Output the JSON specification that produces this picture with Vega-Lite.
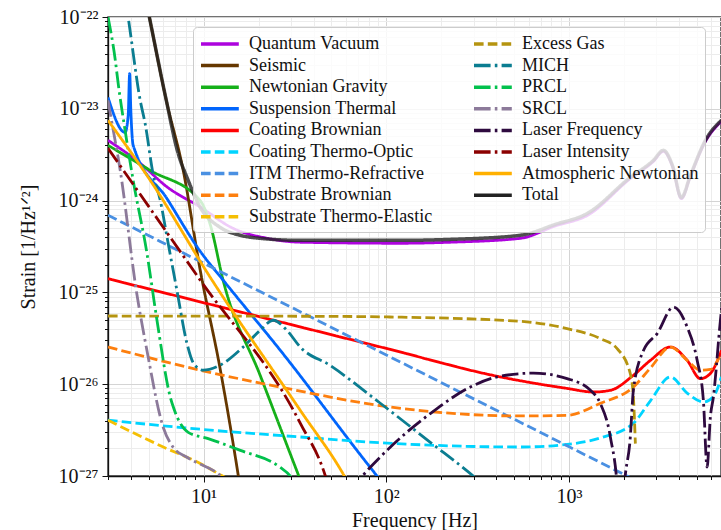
{
  "$schema": "https://vega.github.io/schema/vega-lite/v6.json",
  "width": 613,
  "height": 459,
  "autosize": "none",
  "padding": {"left": 108, "top": 17, "right": 0, "bottom": 54},
  "background": "white",
  "config": {
    "font": "Liberation Serif",
    "view": {"stroke": "#444", "strokeWidth": 1.5},
    "axis": {
      "labelFont": "Liberation Serif", "labelFontSize": 20, "labelColor": "#111",
      "titleFont": "Liberation Serif", "titleFontSize": 20, "titleFontWeight": "normal", "titleColor": "#111",
      "domainColor": "#111", "domainWidth": 1.3, "tickColor": "#111", "tickWidth": 1,
      "labelOverlap": false, "labelFlush": false, "grid": true
    }
  },
  "data": {"values": [
    {"noise":"Quantum Vacuum","freq":3.0,"strain":4.54e-24},
    {"noise":"Quantum Vacuum","freq":4.5,"strain":2.55e-24},
    {"noise":"Quantum Vacuum","freq":6.31,"strain":1.41e-24},
    {"noise":"Quantum Vacuum","freq":9.59,"strain":8.51e-25},
    {"noise":"Quantum Vacuum","freq":14.5,"strain":4.99e-25},
    {"noise":"Quantum Vacuum","freq":22.4,"strain":3.88e-25},
    {"noise":"Quantum Vacuum","freq":33.8,"strain":3.52e-25},
    {"noise":"Quantum Vacuum","freq":119,"strain":3.43e-25},
    {"noise":"Quantum Vacuum","freq":224,"strain":3.52e-25},
    {"noise":"Quantum Vacuum","freq":541,"strain":3.88e-25},
    {"noise":"Quantum Vacuum","freq":840,"strain":5.3e-25},
    {"noise":"Quantum Vacuum","freq":1259,"strain":6.9e-25},
    {"noise":"Quantum Vacuum","freq":2163,"strain":1.74e-24},
    {"noise":"Quantum Vacuum","freq":2891,"strain":2.67e-24},
    {"noise":"Quantum Vacuum","freq":3281,"strain":3.44e-24},
    {"noise":"Quantum Vacuum","freq":3675,"strain":2.36e-24},
    {"noise":"Quantum Vacuum","freq":4115,"strain":1.05e-24},
    {"noise":"Quantum Vacuum","freq":4610,"strain":1.84e-24},
    {"noise":"Quantum Vacuum","freq":5570,"strain":4.4e-24},
    {"noise":"Quantum Vacuum","freq":6810,"strain":7.3e-24},

    {"noise":"Seismic","freq":4.5,"strain":3.1e-22},
    {"noise":"Seismic","freq":5.05,"strain":1.0e-22},
    {"noise":"Seismic","freq":6.25,"strain":1.24e-23},
    {"noise":"Seismic","freq":7.74,"strain":2.13e-24},
    {"noise":"Seismic","freq":9.59,"strain":1.74e-25},
    {"noise":"Seismic","freq":12.3,"strain":1.5e-26},
    {"noise":"Seismic","freq":15.5,"strain":1.0e-27},
    {"noise":"Seismic","freq":17,"strain":3.0e-28},

    {"noise":"Newtonian Gravity","freq":3.0,"strain":4.0e-24},
    {"noise":"Newtonian Gravity","freq":5.11,"strain":2.13e-24},
    {"noise":"Newtonian Gravity","freq":9.59,"strain":1.0e-24},
    {"noise":"Newtonian Gravity","freq":10.9,"strain":5.4e-25},
    {"noise":"Newtonian Gravity","freq":12.8,"strain":1.35e-25},
    {"noise":"Newtonian Gravity","freq":20.5,"strain":1.22e-26},
    {"noise":"Newtonian Gravity","freq":33.2,"strain":1.0e-27},
    {"noise":"Newtonian Gravity","freq":36,"strain":6.6e-28},

    {"noise":"Suspension Thermal","freq":3.0,"strain":1.33e-23},
    {"noise":"Suspension Thermal","freq":3.72,"strain":5.53e-24},
    {"noise":"Suspension Thermal","freq":3.87,"strain":8.5e-24},
    {"noise":"Suspension Thermal","freq":3.94,"strain":2.42e-23},
    {"noise":"Suspension Thermal","freq":4.0,"strain":9.6e-24},
    {"noise":"Suspension Thermal","freq":4.12,"strain":4.0e-24},
    {"noise":"Suspension Thermal","freq":6.31,"strain":1.05e-24},
    {"noise":"Suspension Thermal","freq":9.59,"strain":2.8e-25},
    {"noise":"Suspension Thermal","freq":12.8,"strain":1.36e-25},
    {"noise":"Suspension Thermal","freq":26.3,"strain":2.34e-26},
    {"noise":"Suspension Thermal","freq":89,"strain":1.0e-27},
    {"noise":"Suspension Thermal","freq":100,"strain":7.5e-28},

    {"noise":"Coating Brownian","freq":3.0,"strain":1.41e-25},
    {"noise":"Coating Brownian","freq":101,"strain":2.44e-26},
    {"noise":"Coating Brownian","freq":421,"strain":1.2e-26},
    {"noise":"Coating Brownian","freq":975,"strain":9.0e-27},
    {"noise":"Coating Brownian","freq":1358,"strain":8.22e-27},
    {"noise":"Coating Brownian","freq":1682,"strain":8.58e-27},
    {"noise":"Coating Brownian","freq":2248,"strain":1.25e-26},
    {"noise":"Coating Brownian","freq":2786,"strain":1.82e-26},
    {"noise":"Coating Brownian","freq":3589,"strain":2.54e-26},
    {"noise":"Coating Brownian","freq":4426,"strain":1.82e-26},
    {"noise":"Coating Brownian","freq":5228,"strain":1.15e-26},
    {"noise":"Coating Brownian","freq":5930,"strain":1.31e-26},
    {"noise":"Coating Brownian","freq":6810,"strain":2.33e-26},

    {"noise":"Coating Thermo-Optic","freq":3.0,"strain":4.05e-27},
    {"noise":"Coating Thermo-Optic","freq":9.59,"strain":3.23e-27},
    {"noise":"Coating Thermo-Optic","freq":33.8,"strain":2.66e-27},
    {"noise":"Coating Thermo-Optic","freq":101,"strain":2.28e-27},
    {"noise":"Coating Thermo-Optic","freq":541,"strain":2.07e-27},
    {"noise":"Coating Thermo-Optic","freq":975,"strain":2.21e-27},
    {"noise":"Coating Thermo-Optic","freq":1483,"strain":2.6e-27},
    {"noise":"Coating Thermo-Optic","freq":2248,"strain":3.75e-27},
    {"noise":"Coating Thermo-Optic","freq":2786,"strain":6.6e-27},
    {"noise":"Coating Thermo-Optic","freq":3589,"strain":1.2e-26},
    {"noise":"Coating Thermo-Optic","freq":4426,"strain":8.0e-27},
    {"noise":"Coating Thermo-Optic","freq":5430,"strain":6.4e-27},
    {"noise":"Coating Thermo-Optic","freq":6160,"strain":7.3e-27},
    {"noise":"Coating Thermo-Optic","freq":6810,"strain":1.2e-26},

    {"noise":"ITM Thermo-Refractive","freq":3.0,"strain":6.93e-25},
    {"noise":"ITM Thermo-Refractive","freq":10,"strain":2.08e-25},
    {"noise":"ITM Thermo-Refractive","freq":100,"strain":2.08e-26},
    {"noise":"ITM Thermo-Refractive","freq":1000,"strain":2.08e-27},
    {"noise":"ITM Thermo-Refractive","freq":2500,"strain":8.3e-28},

    {"noise":"Substrate Brownian","freq":3.0,"strain":2.54e-26},
    {"noise":"Substrate Brownian","freq":9.59,"strain":1.42e-26},
    {"noise":"Substrate Brownian","freq":26.3,"strain":9.3e-27},
    {"noise":"Substrate Brownian","freq":105,"strain":5.64e-27},
    {"noise":"Substrate Brownian","freq":541,"strain":4.51e-27},
    {"noise":"Substrate Brownian","freq":975,"strain":4.58e-27},
    {"noise":"Substrate Brownian","freq":1483,"strain":6.19e-27},
    {"noise":"Substrate Brownian","freq":2248,"strain":9.3e-27},
    {"noise":"Substrate Brownian","freq":2786,"strain":1.5e-26},
    {"noise":"Substrate Brownian","freq":3589,"strain":2.54e-26},
    {"noise":"Substrate Brownian","freq":4426,"strain":1.82e-26},
    {"noise":"Substrate Brownian","freq":5228,"strain":1.42e-26},
    {"noise":"Substrate Brownian","freq":5930,"strain":1.45e-26},
    {"noise":"Substrate Brownian","freq":6810,"strain":2.2e-26},

    {"noise":"Substrate Thermo-Elastic","freq":3.0,"strain":4.05e-27},
    {"noise":"Substrate Thermo-Elastic","freq":6.02,"strain":2.07e-27},
    {"noise":"Substrate Thermo-Elastic","freq":9.59,"strain":1.37e-27},
    {"noise":"Substrate Thermo-Elastic","freq":12.7,"strain":1.0e-27},
    {"noise":"Substrate Thermo-Elastic","freq":15.9,"strain":7.9e-28},

    {"noise":"Excess Gas","freq":3.0,"strain":5.53e-26},
    {"noise":"Excess Gas","freq":33.8,"strain":5.5e-26},
    {"noise":"Excess Gas","freq":101,"strain":5.4e-26},
    {"noise":"Excess Gas","freq":541,"strain":4.84e-26},
    {"noise":"Excess Gas","freq":975,"strain":4.03e-26},
    {"noise":"Excess Gas","freq":1483,"strain":3.14e-26},
    {"noise":"Excess Gas","freq":1832,"strain":2.44e-26},
    {"noise":"Excess Gas","freq":2163,"strain":1.3e-26},
    {"noise":"Excess Gas","freq":2248,"strain":7.26e-27},
    {"noise":"Excess Gas","freq":2305,"strain":2.25e-27},

    {"noise":"MICH","freq":3.7,"strain":1.8e-22},
    {"noise":"MICH","freq":3.89,"strain":9.2e-23},
    {"noise":"MICH","freq":4.5,"strain":1.24e-23},
    {"noise":"MICH","freq":4.79,"strain":6.9e-24},
    {"noise":"MICH","freq":5.31,"strain":1.89e-24},
    {"noise":"MICH","freq":5.8,"strain":1.0e-24},
    {"noise":"MICH","freq":6.31,"strain":4.0e-25},
    {"noise":"MICH","freq":7.15,"strain":1.05e-25},
    {"noise":"MICH","freq":8.11,"strain":2.79e-26},
    {"noise":"MICH","freq":8.81,"strain":1.69e-26},
    {"noise":"MICH","freq":9.96,"strain":1.42e-26},
    {"noise":"MICH","freq":12.3,"strain":1.61e-26},
    {"noise":"MICH","freq":16.4,"strain":2.52e-26},
    {"noise":"MICH","freq":20.4,"strain":3.86e-26},
    {"noise":"MICH","freq":24.1,"strain":4.97e-26},
    {"noise":"MICH","freq":28.6,"strain":3.86e-26},
    {"noise":"MICH","freq":33.8,"strain":2.54e-26},
    {"noise":"MICH","freq":49.3,"strain":1.6e-26},
    {"noise":"MICH","freq":92.7,"strain":6.2e-27},
    {"noise":"MICH","freq":174,"strain":2.33e-27},
    {"noise":"MICH","freq":299,"strain":1.0e-27},
    {"noise":"MICH","freq":371,"strain":6.9e-28},

    {"noise":"PRCL","freq":3.0,"strain":1.0e-22},
    {"noise":"PRCL","freq":3.29,"strain":3.37e-23},
    {"noise":"PRCL","freq":3.41,"strain":1.89e-23},
    {"noise":"PRCL","freq":3.72,"strain":5.83e-24},
    {"noise":"PRCL","freq":4.12,"strain":1.66e-24},
    {"noise":"PRCL","freq":4.9,"strain":2.67e-25},
    {"noise":"PRCL","freq":5.56,"strain":4.97e-26},
    {"noise":"PRCL","freq":6.58,"strain":7.2e-27},
    {"noise":"PRCL","freq":6.84,"strain":5.6e-27},
    {"noise":"PRCL","freq":8.24,"strain":2.99e-27},
    {"noise":"PRCL","freq":10.5,"strain":2.57e-27},
    {"noise":"PRCL","freq":15.9,"strain":1.9e-27},
    {"noise":"PRCL","freq":26.3,"strain":1.24e-27},
    {"noise":"PRCL","freq":29.8,"strain":1.0e-27},
    {"noise":"PRCL","freq":33,"strain":7.0e-28},

    {"noise":"SRCL","freq":3.0,"strain":1.24e-23},
    {"noise":"SRCL","freq":3.08,"strain":9.14e-24},
    {"noise":"SRCL","freq":3.5,"strain":2.13e-24},
    {"noise":"SRCL","freq":4.31,"strain":9.75e-26},
    {"noise":"SRCL","freq":4.9,"strain":2.33e-26},
    {"noise":"SRCL","freq":6.02,"strain":3.38e-27},
    {"noise":"SRCL","freq":6.82,"strain":2.05e-27},
    {"noise":"SRCL","freq":8.11,"strain":1.6e-27},
    {"noise":"SRCL","freq":12.3,"strain":1.02e-27},
    {"noise":"SRCL","freq":14,"strain":8.0e-28},

    {"noise":"Laser Frequency","freq":63.5,"strain":6.9e-28},
    {"noise":"Laser Frequency","freq":74,"strain":1.0e-27},
    {"noise":"Laser Frequency","freq":101,"strain":1.91e-27},
    {"noise":"Laser Frequency","freq":174,"strain":4.79e-27},
    {"noise":"Laser Frequency","freq":288,"strain":9.3e-27},
    {"noise":"Laser Frequency","freq":404,"strain":1.2e-26},
    {"noise":"Laser Frequency","freq":638,"strain":1.32e-26},
    {"noise":"Laser Frequency","freq":975,"strain":1.15e-26},
    {"noise":"Laser Frequency","freq":1309,"strain":8.58e-27},
    {"noise":"Laser Frequency","freq":1483,"strain":6.15e-27},
    {"noise":"Laser Frequency","freq":1682,"strain":2.66e-27},
    {"noise":"Laser Frequency","freq":1850,"strain":6.0e-28},
    {"noise":"Laser Frequency","freq":1880,"strain":2.0e-28},
    {"noise":"Laser Frequency","freq":1950,"strain":2.0e-28},
    {"noise":"Laser Frequency","freq":1990,"strain":6.0e-28},
    {"noise":"Laser Frequency","freq":2163,"strain":2.66e-27},
    {"noise":"Laser Frequency","freq":2248,"strain":8.58e-27},
    {"noise":"Laser Frequency","freq":2553,"strain":2.33e-26},
    {"noise":"Laser Frequency","freq":3034,"strain":3.56e-26},
    {"noise":"Laser Frequency","freq":3724,"strain":6.93e-26},
    {"noise":"Laser Frequency","freq":4426,"strain":4.2e-26},
    {"noise":"Laser Frequency","freq":5020,"strain":1.82e-26},
    {"noise":"Laser Frequency","freq":5430,"strain":6.67e-27},
    {"noise":"Laser Frequency","freq":5690,"strain":1.25e-27},
    {"noise":"Laser Frequency","freq":5930,"strain":4.4e-27},
    {"noise":"Laser Frequency","freq":6160,"strain":7.26e-27},
    {"noise":"Laser Frequency","freq":6730,"strain":4.97e-26},
    {"noise":"Laser Frequency","freq":6900,"strain":8.0e-26},

    {"noise":"Laser Intensity","freq":3.0,"strain":3.71e-24},
    {"noise":"Laser Intensity","freq":9.59,"strain":1.36e-25},
    {"noise":"Laser Intensity","freq":33.8,"strain":3.76e-27},
    {"noise":"Laser Intensity","freq":46.4,"strain":1.0e-27},
    {"noise":"Laser Intensity","freq":50,"strain":6.0e-28},

    {"noise":"Atmospheric Newtonian","freq":3.0,"strain":7.48e-24},
    {"noise":"Atmospheric Newtonian","freq":5.11,"strain":1.66e-24},
    {"noise":"Atmospheric Newtonian","freq":10.9,"strain":1.45e-25},
    {"noise":"Atmospheric Newtonian","freq":33.8,"strain":5.2e-27},
    {"noise":"Atmospheric Newtonian","freq":58.9,"strain":1.0e-27},
    {"noise":"Atmospheric Newtonian","freq":65,"strain":7.0e-28},

    {"noise":"Total","freq":4.5,"strain":3.1e-22},
    {"noise":"Total","freq":5.05,"strain":1.0e-22},
    {"noise":"Total","freq":6.25,"strain":1.24e-23},
    {"noise":"Total","freq":7.18,"strain":3.53e-24},
    {"noise":"Total","freq":8.24,"strain":1.66e-24},
    {"noise":"Total","freq":9.59,"strain":8.45e-25},
    {"noise":"Total","freq":12.3,"strain":5.12e-25},
    {"noise":"Total","freq":15.9,"strain":4.19e-25},
    {"noise":"Total","freq":20.5,"strain":3.88e-25},
    {"noise":"Total","freq":33.8,"strain":3.69e-25},
    {"noise":"Total","freq":119,"strain":3.69e-25},
    {"noise":"Total","freq":224,"strain":3.78e-25},
    {"noise":"Total","freq":541,"strain":4.19e-25},
    {"noise":"Total","freq":840,"strain":5.5e-25},
    {"noise":"Total","freq":1259,"strain":7.26e-25},
    {"noise":"Total","freq":2163,"strain":1.79e-24},
    {"noise":"Total","freq":2891,"strain":2.74e-24},
    {"noise":"Total","freq":3281,"strain":3.53e-24},
    {"noise":"Total","freq":3675,"strain":2.42e-24},
    {"noise":"Total","freq":4115,"strain":1.08e-24},
    {"noise":"Total","freq":4610,"strain":1.88e-24},
    {"noise":"Total","freq":5570,"strain":4.53e-24},
    {"noise":"Total","freq":6810,"strain":7.48e-24}
  ]},
  "mark": {"type": "line", "clip": true, "interpolate": "monotone", "strokeCap": "butt"},
  "encoding": {
    "x": {
      "field": "freq", "type": "quantitative",
      "scale": {"type": "log", "domain": [3, 6780], "nice": false},
      "axis": {
        "title": "Frequency [Hz]", "titlePadding": 4,
        "values": [3,4,5,6,7,8,9,10,20,30,40,50,60,70,80,90,100,200,300,400,500,600,700,800,900,1000,2000,3000,4000,5000,6000],
        "labelExpr": "datum.value == 10 ? '10¹' : datum.value == 100 ? '10²' : datum.value == 1000 ? '10³' : ''",
        "labelPadding": 4,
        "tickSize": {"condition": {"test": "datum.value == 10 || datum.value == 100 || datum.value == 1000", "value": 6}, "value": 3.5},
        "gridColor": {"condition": {"test": "datum.value == 10 || datum.value == 100 || datum.value == 1000", "value": "#d4d4d4"}, "value": "#ececec"},
        "gridWidth": 1
      }
    },
    "y": {
      "field": "strain", "type": "quantitative",
      "scale": {"type": "log", "domain": [1e-27, 1e-22], "nice": false},
      "axis": {
        "title": "Strain [1/Hz¹ᐟ²]", "titlePadding": 20,
        "values": [1e-27,2e-27,3e-27,4e-27,5e-27,6e-27,7e-27,8e-27,9e-27,1e-26,2e-26,3e-26,4e-26,5e-26,6e-26,7e-26,8e-26,9e-26,1e-25,2e-25,3e-25,4e-25,5e-25,6e-25,7e-25,8e-25,9e-25,1e-24,2e-24,3e-24,4e-24,5e-24,6e-24,7e-24,8e-24,9e-24,1e-23,2e-23,3e-23,4e-23,5e-23,6e-23,7e-23,8e-23,9e-23,1e-22],
        "labelExpr": "abs(datum.value/pow(10,round(log(datum.value)/LN10))-1) < 1e-6 ? '10⁻²' + ['⁰','¹','²','³','⁴','⁵','⁶','⁷','⁸','⁹'][-round(log(datum.value)/LN10)-20] : ''",
        "labelPadding": 4,
        "tickSize": {"condition": {"test": "abs(datum.value/pow(10,round(log(datum.value)/LN10))-1) < 1e-6", "value": 6}, "value": 3.5},
        "gridColor": {"condition": {"test": "abs(datum.value/pow(10,round(log(datum.value)/LN10))-1) < 1e-6", "value": "#d4d4d4"}, "value": "#ececec"},
        "gridWidth": 1
      }
    },
    "color": {
      "field": "noise", "type": "nominal",
      "scale": {
        "domain": ["Quantum Vacuum","Seismic","Newtonian Gravity","Suspension Thermal","Coating Brownian","Coating Thermo-Optic","ITM Thermo-Refractive","Substrate Brownian","Substrate Thermo-Elastic","Excess Gas","MICH","PRCL","SRCL","Laser Frequency","Laser Intensity","Atmospheric Newtonian","Total"],
        "range": ["#ad03de","#653700","#15b01a","#0165fc","#fe0002","#00d4ff","#4a90e2","#fd7f0e","#f5bf03","#b59410","#0b7d91","#02c14d","#8c7a9a","#2e0a3f","#8b0000","#ffb000","#222222"]
      },
      "legend": {
        "title": null, "orient": "none", "legendX": 85, "legendY": 10, "columns": 2,
        "columnPadding": 34, "rowPadding": 1.6, "symbolType": "M-1,0H3.2", "symbolSize": 324,
        "symbolStrokeWidth": 3.5, "labelFont": "Liberation Serif", "labelFontSize": 18, "labelColor": "#111",
        "labelLimit": 300, "labelOffset": 28, "fillColor": "rgba(255,255,255,0.8)", "strokeColor": "#cccccc",
        "cornerRadius": 4, "padding": 6
      }
    },
    "strokeDash": {
      "field": "noise", "type": "nominal",
      "scale": {
        "domain": ["Quantum Vacuum","Seismic","Newtonian Gravity","Suspension Thermal","Coating Brownian","Coating Thermo-Optic","ITM Thermo-Refractive","Substrate Brownian","Substrate Thermo-Elastic","Excess Gas","MICH","PRCL","SRCL","Laser Frequency","Laser Intensity","Atmospheric Newtonian","Total"],
        "range": [[1,0],[1,0],[1,0],[1,0],[1,0],[9.6,4.2],[9.6,4.2],[9.6,4.2],[9.6,4.2],[9.6,4.2],[16.6,4.2,2.6,4.2],[16.6,4.2,2.6,4.2],[16.6,4.2,2.6,4.2],[16.6,4.2,2.6,4.2],[16.6,4.2,2.6,4.2],[1,0],[1,0]]
      }
    },
    "opacity": {"condition": {"test": "datum.noise === 'Total'", "value": 0.8}, "value": 1},
    "strokeWidth": {"condition": {"test": "datum.noise === 'Total'", "value": 3.5}, "value": 2.8}
  }
}
